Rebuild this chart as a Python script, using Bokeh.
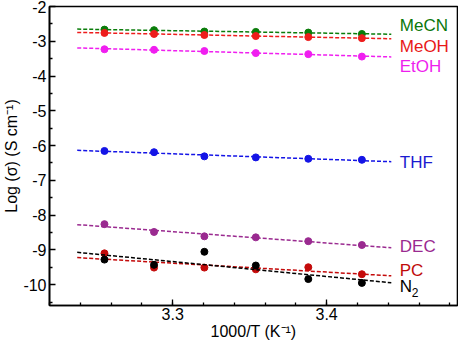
import numpy as np
from bokeh.plotting import figure
from bokeh.models import FixedTicker, Range1d, PrintfTickFormatter
from bokeh.embed import file_html
from bokeh.resources import INLINE
from bokeh.core.properties import value

# 1000/T (K^-1) for T = 307, 304, 301, 298, 295, 292 K
inv_T = [3.2557, 3.2879, 3.3206, 3.3540, 3.3881, 3.4229]

series_names = ["MeCN", "MeOH", "EtOH", "THF", "DEC", "PC", "N2"]
mecn = [-2.665, -2.68, -2.72, -2.73, -2.75, -2.79]
meoh = [-2.76, -2.79, -2.82, -2.85, -2.88, -2.91]
etoh = [-3.23, -3.245, -3.28, -3.34, -3.37, -3.44]
thf = [-6.155, -6.19, -6.31, -6.34, -6.38, -6.41]
dec = [-8.26, -8.485, -8.61, -8.64, -8.75, -8.86]
pc = [-9.10, -9.51, -9.51, -9.56, -9.50, -9.70]
n2 = [-9.28, -9.43, -9.055, -9.45, -9.84, -9.95]

x_ticks = [3.3, 3.4]
y_ticks = [-2, -3, -4, -5, -6, -7, -8, -9, -10]

colors = ["#0a7d0a", "#ee1c1c", "#f01ef0", "#1414e6", "#9a2a90", "#c40a0a", "#000000"]
label_colors = ["#0a780a", "#e81818", "#ee1eee", "#1a1ad0", "#9a2a90", "#c00a0a", "#000000"]
label_y = [-2.56, -3.15, -3.74, -6.49, -8.91, -9.58, -10.06]

data = [mecn, meoh, etoh, thf, dec, pc, n2]

FONT = "Liberation Sans"

p = figure(width=458, height=342, output_backend="svg", toolbar_location=None,
           x_range=Range1d(3.22, 3.485), y_range=Range1d(-10.6, -2.0),
           min_border_left=45, min_border_right=1, min_border_top=6, min_border_bottom=36)
p.grid.visible = False
p.outline_line_color = "black"
p.outline_line_width = 1.6
p.background_fill_color = "white"
p.border_fill_color = "white"

fit_x = np.array([3.238, 3.442])
for name, ys, c in zip(series_names, data, colors):
    k, b = np.polyfit(inv_T, ys, 1)
    p.line(fit_x, k * fit_x + b, line_color=c, line_dash="4 2", line_width=1.5)
    p.scatter(inv_T, ys, size=7, fill_color=c, line_color=c)

lbl_names = ["MeCN", "MeOH", "EtOH", "THF", "DEC", "PC", "N"]
p.text(x=[3.4475] * 7, y=label_y, text=lbl_names, text_color=label_colors,
       text_font=value(FONT), text_font_size="17px", text_baseline="middle", text_align="left")
p.text(x=[3.4475], y=[label_y[-1]], text=["2"], text_color="black", x_offset=12, y_offset=6,
       text_font=value(FONT), text_font_size="12px", text_baseline="middle", text_align="left")

xa = p.xaxis[0]
ya = p.yaxis[0]
xa.ticker = FixedTicker(ticks=x_ticks, minor_ticks=[3.22 + 0.02 * i for i in range(14)])
ya.ticker = FixedTicker(ticks=y_ticks, minor_ticks=[-2.5 - i for i in range(9)])
xa.formatter = PrintfTickFormatter(format="%.1f")
ya.formatter = PrintfTickFormatter(format="%d")
xa.axis_label = "1000/T (K⁻¹)"
ya.axis_label = "Log (σ) (S cm⁻¹)"
for ax in (xa, ya):
    ax.axis_line_width = 1.6
    ax.major_tick_in = 6
    ax.major_tick_out = 0
    ax.minor_tick_in = 3
    ax.minor_tick_out = 0
    ax.major_tick_line_width = 1.3
    ax.minor_tick_line_width = 1.3
    ax.major_label_text_font = FONT
    ax.major_label_text_font_size = "16px"
    ax.major_label_text_color = "black"
    ax.major_label_text_line_height = 0.9
    ax.major_label_standoff = 2
    ax.axis_label_text_font = FONT
    ax.axis_label_text_font_size = "16px"
    ax.axis_label_text_font_style = "normal"
    ax.axis_label_text_color = "black"
    ax.axis_label_text_line_height = 0.9
    ax.axis_label_standoff = 0
ya.major_label_standoff = 3

open("out.html", "w").write(file_html(p, INLINE))
